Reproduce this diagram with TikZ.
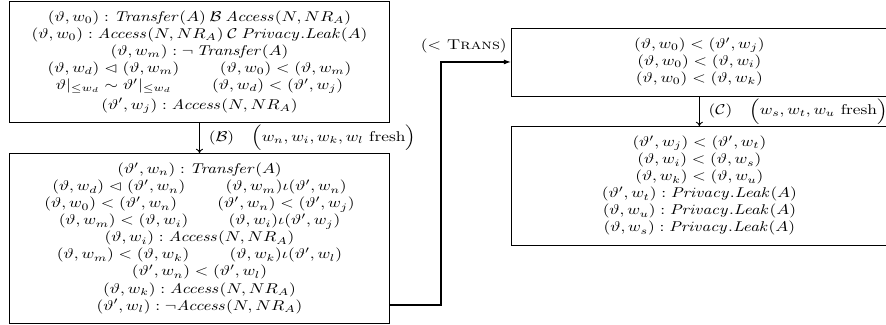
\documentclass[tikz,border=0pt]{standalone}
\usepackage{amsmath,amssymb,graphicx}
\usetikzlibrary{arrows.meta}
\newcommand{\sx}[1]{\scalebox{1.22}[1]{#1}}
\newcommand{\lines}[1]{\sx{\begin{tabular}{@{}c@{}}#1\end{tabular}}}
\begin{document}
\begin{tikzpicture}[x=0.705pt,y=-0.705pt,
  stepbox/.style={draw, line width=0.6pt, inner xsep=0pt, inner ysep=6pt, anchor=north west},
  leftbox/.style={stepbox, minimum width=268pt},
  rightbox/.style={stepbox, minimum width=265pt},
  rulelabel/.style={anchor=west, inner sep=0pt, xshift=6.3pt},
  down/.style={line width=0.6pt, -{To[length=3pt,width=5pt]}},
  route/.style={line width=0.8pt, -{Latex[length=5pt,width=3.5pt]}}]
\useasboundingbox (0,0) rectangle (886,325);
\node[leftbox, inner ysep=5.5pt] (b1) at (9,1) {\lines{%
$(\vartheta, w_0) : \mathit{Transfer}(A) \mathbin{\mathcal{B}} \mathit{Access}(N, NR_A)$\\
$(\vartheta, w_0) : \mathit{Access}(N, NR_A) \mathbin{\mathcal{C}} \mathit{Privacy.Leak}(A)$\\
$(\vartheta, w_m) : \neg\, \mathit{Transfer}(A)$\\
$(\vartheta, w_d) \vartriangleleft (\vartheta, w_m)$ \qquad $(\vartheta, w_0) < (\vartheta, w_m)$\\
$\vartheta|_{\leq w_d} \sim \vartheta'|_{\leq w_d}$ \qquad $(\vartheta, w_d) < (\vartheta', w_j)$\\[2pt]
$(\vartheta', w_j) : \mathit{Access}(N, NR_A)$}};
\node[leftbox] (b2) at (9,153) {\lines{%
$(\vartheta', w_n) : \mathit{Transfer}(A)$\\
$(\vartheta, w_d) \vartriangleleft (\vartheta', w_n)$ \qquad $(\vartheta, w_m) \iota (\vartheta', w_n)$\\
$(\vartheta, w_0) < (\vartheta', w_n)$ \qquad $(\vartheta', w_n) < (\vartheta', w_j)$\\
$(\vartheta, w_m) < (\vartheta, w_i)$ \qquad $(\vartheta, w_i) \iota (\vartheta', w_j)$\\
$(\vartheta, w_i) : \mathit{Access}(N, NR_A)$\\
$(\vartheta, w_m) < (\vartheta, w_k)$ \qquad $(\vartheta, w_k) \iota (\vartheta', w_l)$\\
$(\vartheta', w_n) < (\vartheta', w_l)$\\
$(\vartheta, w_k) : \mathit{Access}(N, NR_A)$\\
$(\vartheta', w_l) : \neg \mathit{Access}(N, NR_A)$}};
\node[rightbox] (b3) at (511,27.5) {\lines{%
$(\vartheta, w_0) < (\vartheta', w_j)$\\
$(\vartheta, w_0) < (\vartheta, w_i)$\\
$(\vartheta, w_0) < (\vartheta, w_k)$}};
\node[rightbox] (b4) at (511,126) {\lines{%
$(\vartheta', w_j) < (\vartheta', w_t)$\\
$(\vartheta, w_i) < (\vartheta, w_s)$\\
$(\vartheta, w_k) < (\vartheta, w_u)$\\
$(\vartheta', w_t) : \mathit{Privacy.Leak}(A)$\\
$(\vartheta, w_u) : \mathit{Privacy.Leak}(A)$\\
$(\vartheta, w_s) : \mathit{Privacy.Leak}(A)$}};
\draw[down] (b1) -- node[rulelabel] (lb) {\sx{$(\mathcal{B})$\quad$\Big(w_n, w_i, w_k, w_l \text{ fresh}\Big)$}} (b2);
\draw[down] (b3) -- node[rulelabel] (lc) {\sx{$(\mathcal{C})$\quad$\Big(w_s, w_t, w_u \text{ fresh}\Big)$}} (b4);
\coordinate (turn) at (441,305);
\draw[route] (b2.east |- turn) -- (turn) |- (b3.west);
\node[anchor=east, inner sep=0pt] (trans) at (507,46) {\sx{$({<}$ \textsc{Trans})}};
\end{tikzpicture}
\end{document}
